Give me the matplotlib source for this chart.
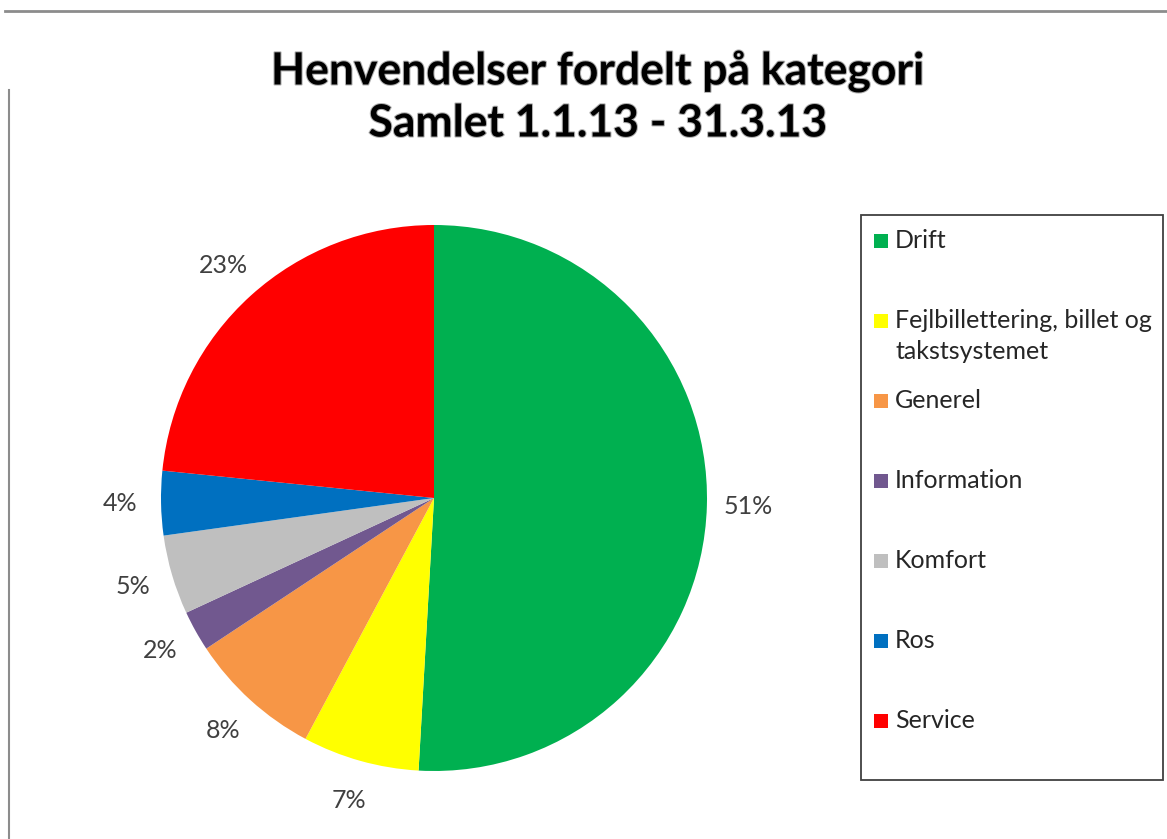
import matplotlib
matplotlib.use("Agg")
import matplotlib.pyplot as plt
import matplotlib.patheffects as pe
from matplotlib.patches import Rectangle
from matplotlib.lines import Line2D

# data (shares in percent)
categories = ["Drift", "Fejlbillettering, billet og\ntakstsystemet", "Generel",
              "Information", "Komfort", "Ros", "Service"]
shares = [50.9, 6.9, 7.9, 2.4, 4.7, 3.8, 23.4]
colors = ["#00B050", "#FFFF00", "#F79646", "#71588F", "#BFBFBF", "#0070C0", "#FF0000"]
title = "Henvendelser fordelt på kategori\nSamlet 1.1.13 - 31.3.13"

plt.rcParams['font.family'] = ['Lato', 'DejaVu Sans']

fig = plt.figure(figsize=(11.67, 8.39), dpi=100)
W, H = 1167, 839

# frame lines like the clipped excel chart area
fig.add_artist(Line2D([5 / W, 1], [1 - 11 / H, 1 - 11 / H], color="#8c8c8c", lw=2))
fig.add_artist(Line2D([9 / W, 9 / W], [0, 1 - 90 / H], color="#8c8c8c", lw=1.5))

fig.text(598 / W, 1 - 97 / H, title, ha="center", va="center", fontsize=32,
         fontweight="bold", linespacing=1.35,
         path_effects=[pe.withStroke(linewidth=1.5, foreground="#b0b0b0")])

# pie
r = 273
cx, cy = 434, 498
ax = fig.add_axes([(cx - r) / W, 1 - (cy + r) / H, 2 * r / W, 2 * r / H])
wedges, _, autotexts = ax.pie(shares, colors=colors, startangle=90, counterclock=False,
                              autopct="%.0f%%", pctdistance=1.15,
                              textprops=dict(fontsize=18, color="#404040"))
ax.set_xlim(-1, 1)
ax.set_ylim(-1, 1)
ax.set_aspect("equal")

# legend drawn like the excel box
fig.add_artist(Rectangle((861 / W, 1 - 780 / H), 302 / W, 565 / H, transform=fig.transFigure,
                         fill=False, edgecolor="#404040", lw=1.3))
sq = 14
for i, (lab, col) in enumerate(zip(categories, colors)):
    y = 241 + 80 * i
    fig.add_artist(Rectangle((874 / W, 1 - (y + sq / 2) / H), sq / W, sq / H,
                             transform=fig.transFigure, facecolor=col, edgecolor="none"))
    fig.text(895 / W, 1 - (y - 12) / H, lab, ha="left", va="top", fontsize=18,
             color="#262626", linespacing=1.4)

fig.savefig("out.png", dpi=100)
